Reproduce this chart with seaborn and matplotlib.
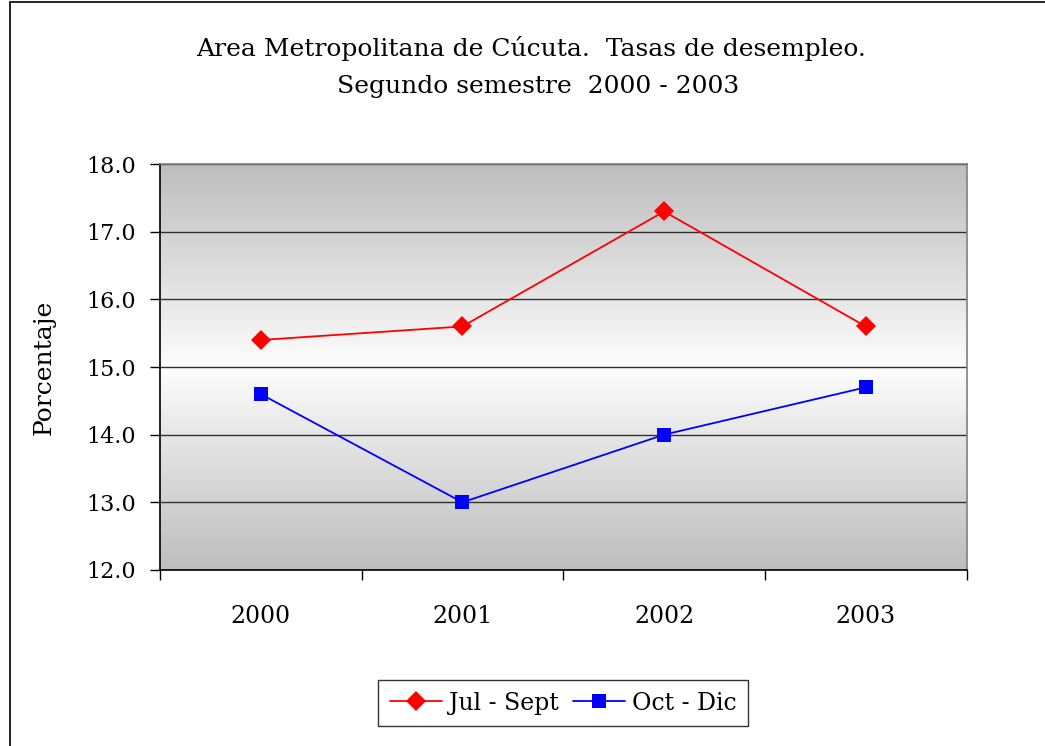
import matplotlib
matplotlib.use("Agg")
import matplotlib.pyplot as plt
import matplotlib.patches as mpatches
from matplotlib.colors import LinearSegmentedColormap
import numpy as np
import pandas as pd
import seaborn as sns

years = ["2000", "2001", "2002", "2003"]
jul_sept = [15.4, 15.6, 17.3, 15.6]
oct_dic = [14.6, 13.0, 14.0, 14.7]
series_names = ["Jul - Sept", "Oct - Dic"]

df = pd.DataFrame({
    "x": list(range(len(years))) * 2,
    "valor": jul_sept + oct_dic,
    "serie": [series_names[0]] * len(years) + [series_names[1]] * len(years),
})

sns.set_style("white")
plt.rcParams["font.family"] = ["DejaVu Serif"]
plt.rcParams["text.color"] = "black"
plt.rcParams["axes.labelcolor"] = "black"
plt.rcParams["xtick.color"] = "black"
plt.rcParams["ytick.color"] = "black"

fig = plt.figure(figsize=(10.45, 7.46), dpi=100)
ax = fig.add_axes([0.153, 0.236, 0.772, 0.544])

# gradient background: gray at top/bottom, white in the middle
gray_cmap = LinearSegmentedColormap.from_list("g", ["#ffffff", "#bebebe"])
grad = np.abs(np.linspace(-1, 1, 256))[:, None] ** 0.9
ax.imshow(grad, cmap=gray_cmap, vmin=0, vmax=1, aspect="auto",
          extent=(-0.5, 3.5, 12, 18), origin="lower", zorder=0)

sns.lineplot(data=df, x="x", y="valor", hue="serie", style="serie",
             palette={series_names[0]: "#ff0000", series_names[1]: "#0000ff"},
             markers={series_names[0]: "D", series_names[1]: "s"},
             dashes=False, markersize=10, markeredgewidth=0, linewidth=1.3,
             ax=ax, zorder=3)

ax.set_xlim(-0.5, 3.5)
ax.set_ylim(12, 18)
ax.set_yticks(np.arange(12, 18.01, 1.0))
ax.set_yticklabels([f"{v:.1f}" for v in np.arange(12, 18.01, 1.0)], fontsize=16)
ax.set_xticks(range(len(years)))
ax.set_xticklabels(years, fontsize=17)
ax.set_xticks(np.arange(-0.5, 3.51, 1.0), minor=True)
ax.tick_params(axis="x", which="major", length=0, pad=25, bottom=True)
ax.tick_params(axis="x", which="minor", length=7, width=1, color="black",
               direction="out", bottom=True)
ax.tick_params(axis="y", length=7, width=1, color="black", direction="out",
               left=True, pad=10)
ax.grid(axis="y", color="#303030", linewidth=1)
for ln in ax.get_ygridlines():
    ln.set_zorder(1)

ax.spines["left"].set_color("black")
ax.spines["bottom"].set_color("black")
ax.spines["top"].set_color("#808080")
ax.spines["right"].set_color("#808080")
for s in ax.spines.values():
    s.set_linewidth(1.2)

ax.set_xlabel("")
ax.set_ylabel("Porcentaje", fontsize=18, labelpad=22)

fig.text(0.508, 0.935, "Area Metropolitana de Cúcuta.  Tasas de desempleo.",
         ha="center", va="center", fontsize=18)
fig.text(0.515, 0.884, "Segundo semestre  2000 - 2003",
         ha="center", va="center", fontsize=18)

handles, labels = ax.get_legend_handles_labels()
ax.legend(handles, labels, loc="center", bbox_to_anchor=(0.5, -0.328),
          ncol=2, frameon=True, fancybox=False, edgecolor="black",
          fontsize=17, handlelength=2.2, columnspacing=0.6, handletextpad=0.3,
          borderpad=0.5)

# outer chart border (extends past right and bottom edges as in the source)
fig.patches.append(mpatches.Rectangle((10 / 1045, -0.05), 1.1, 1.05 - 2 / 746,
                                      transform=fig.transFigure, fill=False,
                                      edgecolor="black", linewidth=1.2))

fig.savefig("out.png", dpi=100)
